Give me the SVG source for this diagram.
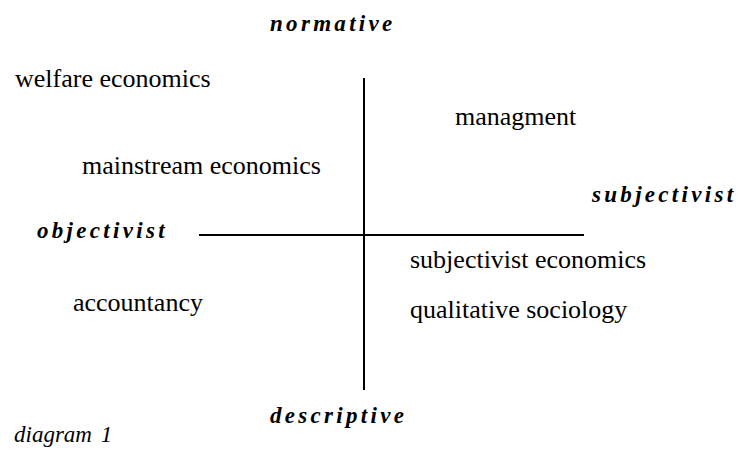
<svg xmlns="http://www.w3.org/2000/svg" width="739" height="449" viewBox="0 0 739 449" font-family="Liberation Serif, Times New Roman, serif">
  <style>
    .bg { fill: #ffffff; }
    .axis { stroke: #000000; stroke-width: 2; fill: none; }
    .field { font-size: 26px; fill: #000000; }
    .pole { font-size: 23px; font-weight: bold; font-style: italic; letter-spacing: 3.3px; fill: #000000; }
    .caption { font-size: 23px; font-style: italic; word-spacing: 3px; fill: #000000; }
  </style>
  <rect class="bg" x="0" y="0" width="739" height="449"/>

  <!-- axes -->
  <g id="connectors">
    <line class="axis" x1="364" y1="78" x2="364" y2="390"/>
    <line class="axis" x1="199" y1="235" x2="584" y2="235"/>
  </g>

  <!-- axis poles -->
  <g id="pole-normative"><text class="pole" font-family="Liberation Serif" x="270" y="31">normative</text></g>
  <g id="pole-descriptive"><text class="pole" font-family="Liberation Serif" x="270" y="423">descriptive</text></g>
  <g id="pole-objectivist"><text class="pole" font-family="Liberation Serif" x="37" y="238">objectivist</text></g>
  <g id="pole-subjectivist"><text class="pole" font-family="Liberation Serif" x="592" y="202">subjectivist</text></g>

  <!-- disciplines -->
  <g id="welfare-economics"><text class="field" font-family="Liberation Serif" x="15" y="87">welfare economics</text></g>
  <g id="mainstream-economics"><text class="field" font-family="Liberation Serif" x="82" y="174">mainstream economics</text></g>
  <g id="managment"><text class="field" font-family="Liberation Serif" x="455" y="125">managment</text></g>
  <g id="accountancy"><text class="field" font-family="Liberation Serif" x="73" y="311">accountancy</text></g>
  <g id="subjectivist-economics"><text class="field" font-family="Liberation Serif" x="410" y="268">subjectivist economics</text></g>
  <g id="qualitative-sociology"><text class="field" font-family="Liberation Serif" x="410" y="318">qualitative sociology</text></g>

  <!-- caption -->
  <g id="caption"><text class="caption" font-family="Liberation Serif" x="14" y="442">diagram 1</text></g>
</svg>
